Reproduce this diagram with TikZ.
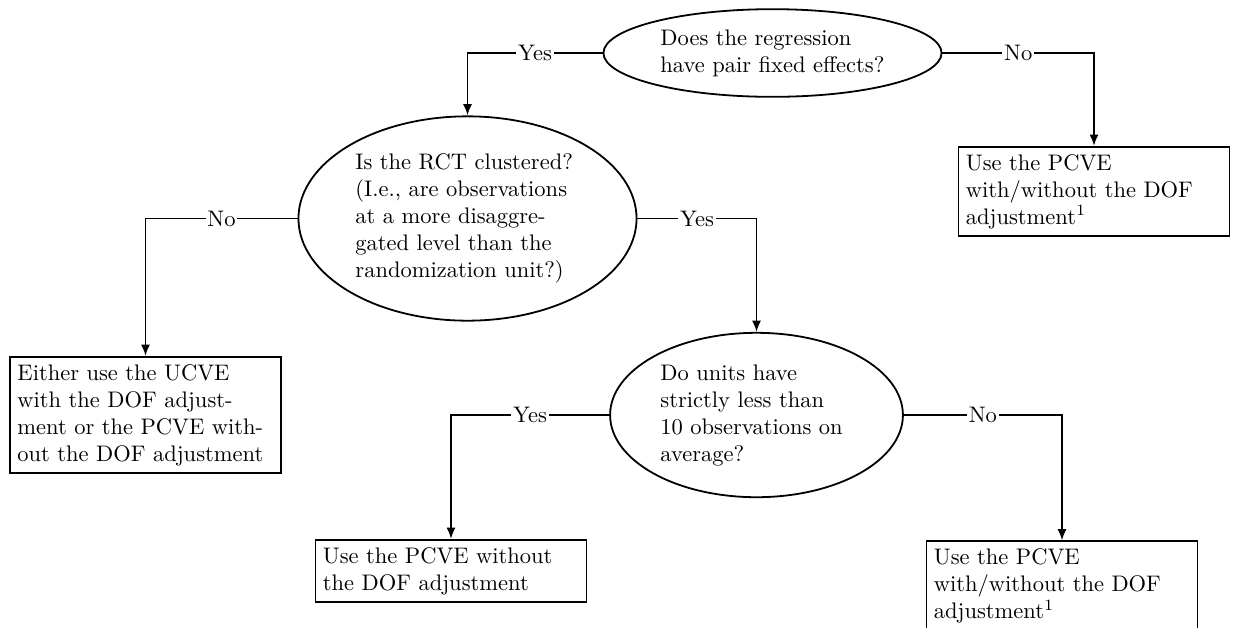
\documentclass[tikz,border=0pt]{standalone}
\usetikzlibrary{shapes.geometric,arrows.meta}
\begin{document}
\begin{tikzpicture}[x=0.4444pt,y=-0.4444pt,
  every node/.style={font=\normalsize},
  q/.style={draw,ellipse,thick,align=left,text width=3.5cm,inner sep=3.33pt},
  qs/.style={q,text width=3cm},
  ans/.style={draw,rectangle,thick,align=left,text width=4cm,inner sep=3.33pt},
  arr/.style={thick,-{Latex[length=5pt,width=4pt]}},
  lab/.style={fill=white,inner sep=0.8pt}]
\useasboundingbox (0,0) rectangle (1233,627);
\node[q] (E1) at (772.5,53) {Does the regression\\have pair fixed effects?};
\node[q] (E2) at (467.5,218.5) {Is the RCT clustered?\\(I.e., are observations\\at a more disaggre-\\gated level than the\\randomization unit?)};
\node[qs] (E3) at (756.5,415) {Do units have\\strictly less than\\10 observations on\\average?};
\node[ans] (B1) at (1094,191.5) {Use the PCVE\\with/without the DOF\\adjustment$^1$};
\node[ans] (B2) at (145.5,415) {Either use the UCVE\\with the DOF adjust-\\ment or the PCVE with-\\out the DOF adjustment};
\node[ans] (B3) at (451,571) {Use the PCVE without\\the DOF adjustment};
\node[ans] (B4) at (1062,586) {Use the PCVE\\with/without the DOF\\adjustment$^1$};
\draw[arr] (E1.west) -| node[lab,pos=0.25]{Yes} (E2.north);
\draw[arr] (E1.east) -| node[lab,pos=0.25]{No} (B1.north);
\draw[arr] (E2.west) -| node[lab,pos=0.25]{No} (B2.north);
\draw[arr] (E2.east) -| node[lab,pos=0.25]{Yes} (E3.north);
\draw[arr] (E3.west) -| node[lab,pos=0.25]{Yes} (B3.north);
\draw[arr] (E3.east) -| node[lab,pos=0.25]{No} (B4.north);
\end{tikzpicture}
\end{document}
